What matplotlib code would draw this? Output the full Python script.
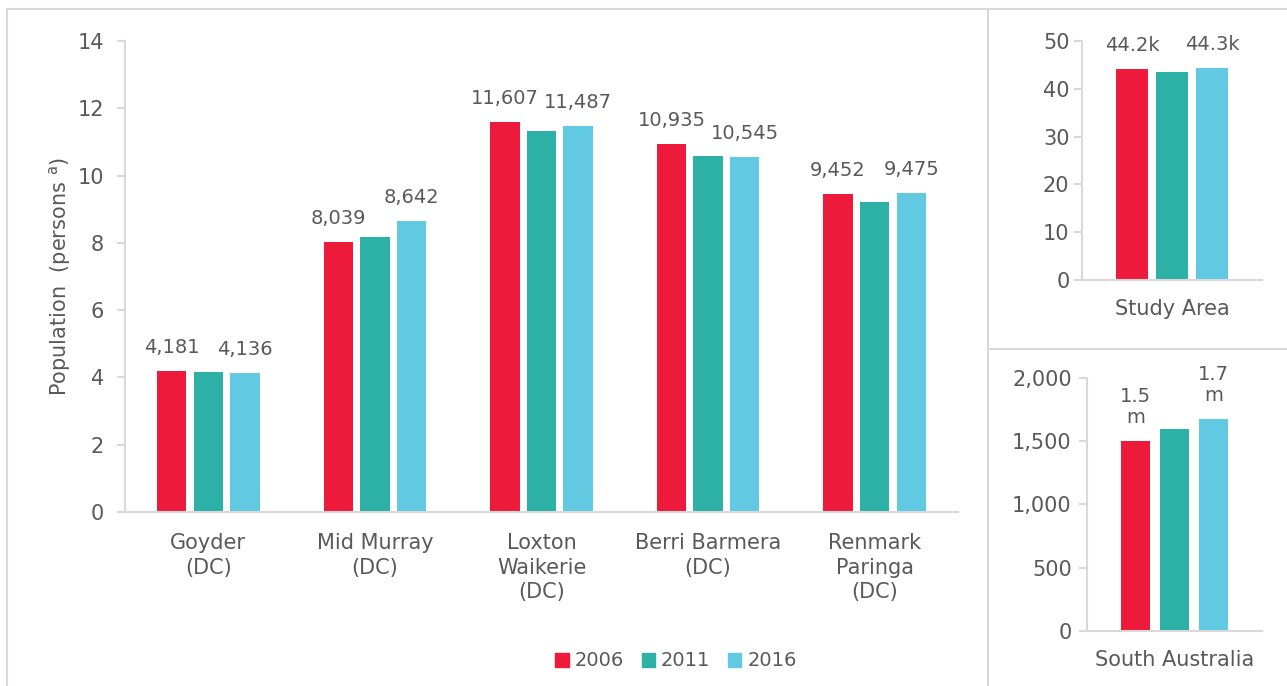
import numpy as np
import matplotlib
matplotlib.use('Agg')
import matplotlib.pyplot as plt
from matplotlib.lines import Line2D
from matplotlib.patches import Patch

plt.rcParams['font.family'] = ['DejaVu Sans']

# population in thousands
lga_names = ['Goyder\n(DC)', 'Mid Murray\n(DC)', 'Loxton\nWaikerie\n(DC)',
             'Berri Barmera\n(DC)', 'Renmark\nParinga\n(DC)']
pop_2006 = [4.181, 8.039, 11.607, 10.935, 9.452]
pop_2011 = [4.175, 8.166, 11.31, 10.59, 9.22]
pop_2016 = [4.136, 8.642, 11.487, 10.545, 9.475]
lbl_2006 = ['4,181', '8,039', '11,607', '10,935', '9,452']
lbl_2016 = ['4,136', '8,642', '11,487', '10,545', '9,475']

study_vals = [44.2, 43.5, 44.3]
study_lbls = ['44.2k', None, '44.3k']
sa_vals = [1503, 1595, 1674]
sa_lbls = ['1.5\nm', None, '1.7\nm']

years = ['2006', '2011', '2016']
cols = ['#EE1A3B', '#2DB0A5', '#61C9E2']
txt_col = '#595959'
line_col = '#D9D9D9'

W, H = 1287, 686
fig = plt.figure(figsize=(W / 100, H / 100), dpi=100)


def fx(px):
    return px / W


def fy(py):
    return 1 - py / H


def style_ax(ax, ypad):
    for s in ['top', 'right']:
        ax.spines[s].set_visible(False)
    for s in ['left', 'bottom']:
        ax.spines[s].set_color(line_col)
        ax.spines[s].set_linewidth(1.5)
    ax.tick_params(axis='y', colors=line_col, labelcolor=txt_col, length=6,
                   width=1.5, pad=ypad, labelsize=15)
    ax.tick_params(axis='x', length=0, labelcolor=txt_col, labelsize=15)


def label_bar(ax, x, y, s, size=14):
    if s is None:
        return
    ax.annotate(s, (x, y), xytext=(0, 10), textcoords='offset points',
                ha='center', va='bottom', fontsize=size, color=txt_col,
                linespacing=1.15)


# main chart
ax = fig.add_axes([fx(125), fy(512), fx(958) - fx(125), fy(41) - fy(512)])
x = np.arange(len(lga_names))
step, bw = 0.22, 0.176
for i, (vals, c) in enumerate(zip([pop_2006, pop_2011, pop_2016], cols)):
    ax.bar(x + (i - 1) * step, vals, bw, color=c, label=years[i])
for j in range(len(x)):
    label_bar(ax, x[j] - step, pop_2006[j], lbl_2006[j])
    label_bar(ax, x[j] + step, pop_2016[j], lbl_2016[j])
ax.set_xlim(-0.5, 4.5)
ax.set_ylim(0, 14)
ax.set_yticks(range(0, 15, 2))
ax.set_xticks(x)
ax.set_xticklabels(lga_names, linespacing=1.3)
style_ax(ax, 9)
ax.tick_params(axis='x', pad=15)
ax.set_ylabel('Population  (persons $^{\\mathrm{a}}$)', fontsize=15, color=txt_col)
ax.yaxis.set_label_coords(-0.063, 0.5)

handles = [Patch(color=c) for c in cols]
fig.legend(handles, years, loc='center', bbox_to_anchor=(fx(676), fy(661)),
           ncol=3, frameon=False, fontsize=14, handlelength=0.7,
           handleheight=0.7, handletextpad=0.3, columnspacing=0.9,
           labelcolor=txt_col)

# study area
ax2 = fig.add_axes([fx(1082), fy(280), fx(1262) - fx(1082), fy(41) - fy(280)])
for i in range(3):
    ax2.bar((i - 1) * 0.222, study_vals[i], 0.178, color=cols[i])
    label_bar(ax2, (i - 1) * 0.222, study_vals[i], study_lbls[i])
ax2.set_xlim(-0.5, 0.5)
ax2.set_ylim(0, 50)
ax2.set_yticks(range(0, 51, 10))
ax2.set_xticks([0])
ax2.set_xticklabels(['Study Area'])
style_ax(ax2, 3)
ax2.tick_params(axis='x', pad=14)

# south australia
ax3 = fig.add_axes([fx(1087), fy(631), fx(1262) - fx(1087), fy(377.7) - fy(631)])
for i in range(3):
    ax3.bar((i - 1) * 0.223, sa_vals[i], 0.171, color=cols[i])
    label_bar(ax3, (i - 1) * 0.223, sa_vals[i], sa_lbls[i])
ax3.set_xlim(-0.5, 0.5)
ax3.set_ylim(0, 2000)
ax3.set_yticks(range(0, 2001, 500))
ax3.yaxis.set_major_formatter(matplotlib.ticker.StrMethodFormatter('{x:,.0f}'))
ax3.set_xticks([0])
ax3.set_xticklabels(['South Australia'])
style_ax(ax3, 5)
ax3.tick_params(axis='x', pad=14)

# panel borders
border = dict(color=line_col, lw=1.5, transform=fig.transFigure)
fig.add_artist(Line2D([fx(7), 1], [fy(9), fy(9)], **border))
fig.add_artist(Line2D([fx(7), fx(7)], [fy(9), 0], **border))
fig.add_artist(Line2D([fx(987.5), fx(987.5)], [fy(9), 0], **border))
fig.add_artist(Line2D([fx(987.5), 1], [fy(349), fy(349)], **border))

fig.savefig('out.png', dpi=100, facecolor='white')
